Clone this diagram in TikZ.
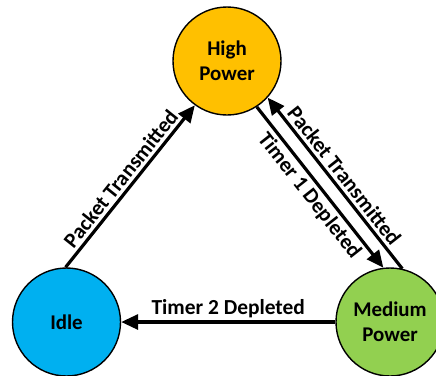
\documentclass[tikz,border=0pt]{standalone}
\usepackage{fontspec}
\setmainfont{Carlito}
\usepackage{xcolor}
\usepackage{tikz}
\usetikzlibrary{arrows.meta,positioning}
\definecolor{highcol}{HTML}{FFC000}
\definecolor{idlecol}{HTML}{00B0F0}
\definecolor{medcol}{HTML}{92D050}

\begin{document}
\begin{tikzpicture}[
    x=1bp, y=-1bp,
    state/.style={circle, draw=black, line width=1.4bp, minimum size=108bp, inner sep=0pt, align=center, font=\fontsize{21}{25}\selectfont\bfseries},
    arrow/.style={-{Triangle[length=17bp,width=15bp]}, line width=3.2bp, draw=black},
    annot/.style={font=\fontsize{21.5}{24}\selectfont\bfseries, sloped, midway, inner sep=3bp}
]
\useasboundingbox (0,0) rectangle (436,375);

\node[state, fill=highcol] (high) at (227,61) {High\\Power};
\node[state, fill=idlecol] (idle) at (66.5,322) {Idle};
\node[state, fill=medcol] (medium) at (390,322) {Medium\\Power};

\draw[arrow] (idle.91) -- node[annot, above] {Packet Transmitted} (high.234);
\draw[arrow] (high.303) -- node[annot, below] {Timer 1 Depleted} (medium.97);
\draw[arrow] (medium.77) -- node[annot, above] {Packet Transmitted} (high.318);
\draw[arrow] (medium.west) -- node[annot, above] {Timer 2 Depleted} (idle.east);

\end{tikzpicture}
\end{document}
